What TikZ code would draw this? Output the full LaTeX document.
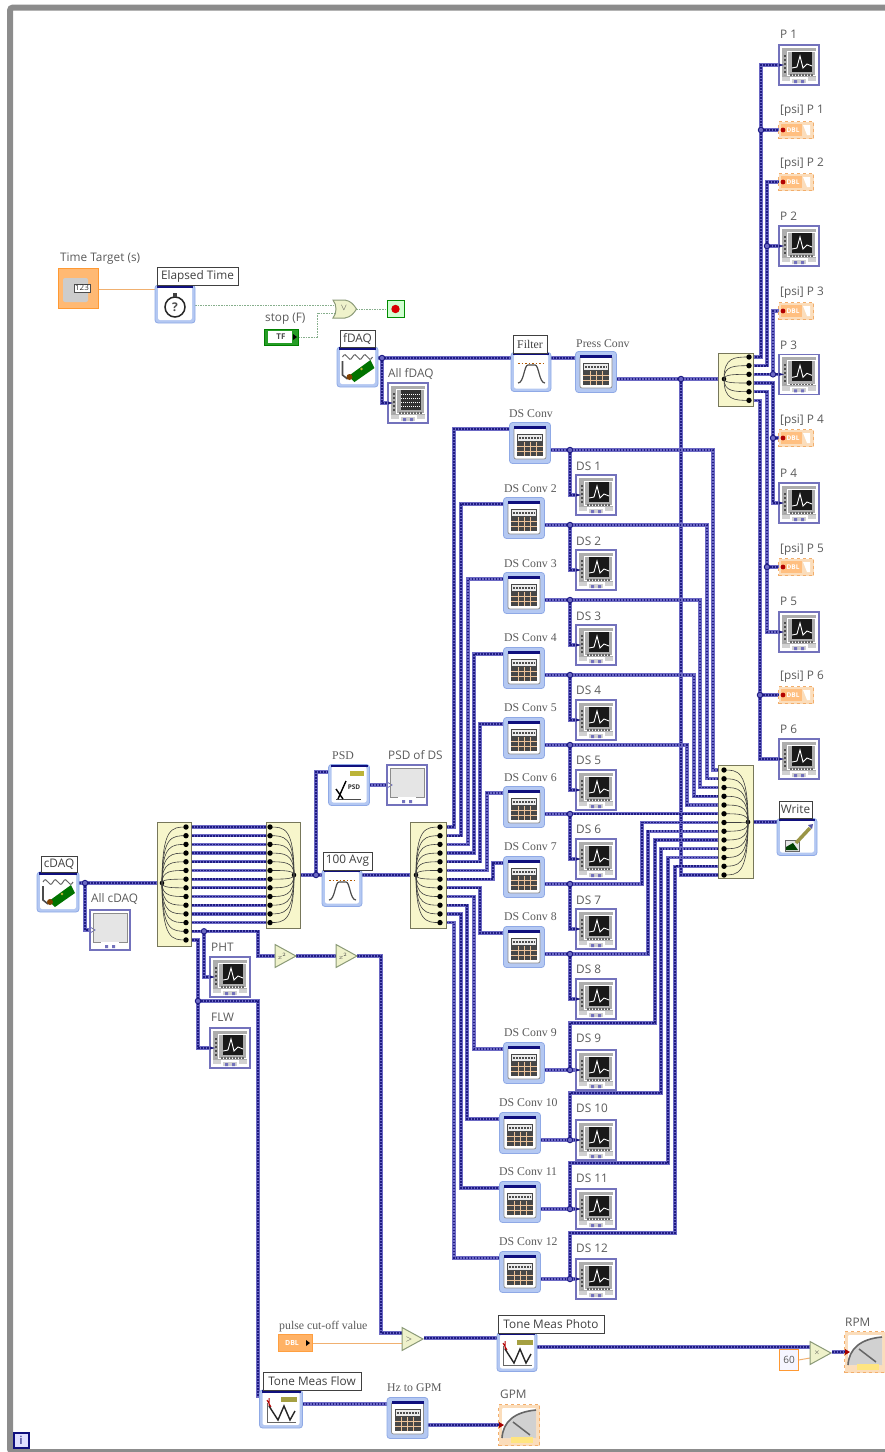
\documentclass[tikz,border=0pt]{standalone}
\usepackage{fontspec}
\setmainfont{Open Sans}
\newfontfamily\serifl{Liberation Serif}
\usetikzlibrary{shapes.geometric,fit,calc}
\pgfdeclarelayer{wirelayer}
\pgfsetlayers{wirelayer,main}
\definecolor{wirelight}{HTML}{6C69C4}
\definecolor{wiredark}{HTML}{1E1B82}
\definecolor{framegray}{HTML}{8C8C8C}
\definecolor{chartedge}{HTML}{7372BC}
\definecolor{exedge}{HTML}{8FA9E6}
\definecolor{exfill}{HTML}{B4C8F2}
\definecolor{navybar}{HTML}{10107E}
\definecolor{bundlefill}{HTML}{F7F6CB}
\definecolor{bundleedge}{HTML}{77775A}
\definecolor{orangeedge}{HTML}{F2AE6C}
\definecolor{orangefill}{HTML}{FBDDBB}
\definecolor{orangewire}{HTML}{F0B070}
\definecolor{boolwire}{HTML}{86AE8C}
\definecolor{primfill}{HTML}{EFF2CB}
\definecolor{primedge}{HTML}{8B9A78}
\definecolor{lbltext}{HTML}{5A5A5A}
\tikzset{
 wire/.style={draw=wirelight,line width=3.2pt,line join=miter,line cap=butt,
   postaction={draw=wiredark,line width=1.7pt,dash pattern=on 1.7pt off 1.3pt}},
 orwire/.style={draw=orangewire,line width=1pt},
 blwire/.style={draw=boolwire,line width=1pt,dash pattern=on 1.6pt off 1pt},
 junc/.style={circle,draw=wiredark,fill=wirelight,line width=0.9pt,minimum size=5.5pt,inner sep=0pt,outer sep=0pt},
 slab/.style={anchor=west,inner sep=0pt,text=lbltext,font=\fontsize{11.8}{13}\selectfont},
 rlab/.style={anchor=west,inner sep=0pt,text=lbltext,font=\serifl\fontsize{11.8}{13}\selectfont},
 boxlab/.style={draw=black!75,fill=white,line width=0.8pt,inner sep=0pt,outer sep=0pt,text=black!75,font=\fontsize{11.8}{13}\selectfont},
 chartframe/.style={rectangle,draw=chartedge,fill=white,line width=1.6pt,minimum size=40pt,inner sep=0pt,outer sep=0pt},
 exframe/.style={rectangle,rounded corners=3pt,draw=exedge,fill=exfill,line width=0.8pt,inner sep=0pt,outer sep=0pt},
 bundlebox/.style={rectangle,draw=bundleedge,fill=bundlefill,line width=0.9pt,inner sep=0pt,outer sep=0pt},
 bundot/.style={circle,fill=black,minimum size=5.4pt,inner sep=0pt,outer sep=0pt},
 hubdot/.style={circle,fill=black,minimum size=4.6pt,inner sep=0pt,outer sep=0pt},
 bundlecurve/.style={draw=black!75,line width=0.6pt},
 numind/.style={rectangle,draw=orangeedge,fill=orangefill,dashed,line width=0.8pt,minimum width=35pt,minimum height=17pt,inner sep=0pt,outer sep=0pt},
 gaugeframe/.style={rectangle,draw=orangeedge,fill=orangefill,dashed,line width=0.8pt,minimum size=41pt,inner sep=0pt,outer sep=0pt},
 prim/.style={isosceles triangle,isosceles triangle stretches,shape border rotate=0,draw=primedge,fill=primfill,line width=1pt,minimum height=21pt,minimum width=23pt,inner sep=0pt,outer sep=0pt,anchor=west},
 primtxt/.style={inner sep=0pt,font=\fontsize{7.5}{8}\selectfont,text=black!75},
}
\newcommand{\chartico}[3]{%
 \node[chartframe] (#1) at (#2,#3) {};
 \coordinate (#1-i) at (#2-20,#3);
 \begin{scope}[shift={(#2,#3)}]
  \fill[black!32] (-17,-17) rectangle (17,12);
  \draw[white,line width=0.8pt] (-12,-14) rectangle (16,10);
  \fill[black!90] (-7,-13) rectangle (13,7);
  \draw[white,line width=0.9pt] (-7,3) -- (-2,2) -- (1,-9) -- (4,3) -- (8,-1) -- (13,1);
  \draw[black!70,line width=1.2pt,dash pattern=on 2pt off 2pt] (-14,-10) -- (-14,10);
  \fill[wiredark] (-20,-1.5) -- (-15,0) -- (-20,1.5) -- cycle;
  \draw[black!60,line width=1.2pt,dash pattern=on 2pt off 1pt] (-9,10) -- (14,10);
  \fill[black!18] (-17,12) rectangle (17,17.5);
  \draw[white,line width=1.5pt] (-18,17) -- (-8,17) -- (-8,13) -- (8,13) -- (8,17) -- (18,17);
  \fill[chartedge] (-5,15) rectangle (-2,18) (2,15) rectangle (5,18);
 \end{scope}}
\newcommand{\blankico}[3]{%
 \node[chartframe] (#1) at (#2,#3) {};
 \coordinate (#1-i) at (#2-20,#3);
 \begin{scope}[shift={(#2,#3)}]
  \fill[black!10] (-17,-17) rectangle (17,12);
  \draw[chartedge,line width=0.8pt] (-20,-3) -- (-15,0) -- (-20,3);
  \draw[black!45,line width=0.8pt] (-17,-17) rectangle (17,12);
  \draw[white,line width=1.5pt] (-18,16) -- (-8,16) -- (-8,13) -- (8,13) -- (8,16) -- (18,16);
  \fill[chartedge] (-5,15) rectangle (-2,18) (2,15) rectangle (5,18);
 \end{scope}}
\newcommand{\convico}[3]{%
 \node[exframe,minimum size=41pt] (#1) at (#2,#3) {};
 \coordinate (#1-i) at (#2-20.5,#3-14);
 \coordinate (#1-o) at (#2+20.5,#3+7);
 \begin{scope}[shift={(#2,#3)}]
  \fill[white,rounded corners=2pt] (-16,-16) rectangle (16,16);
  \draw[black!45,rounded corners=2pt,line width=0.7pt] (-16,-16) rectangle (16,16);
  \fill[navybar] (-16,-17) rectangle (16,-14);
  \fill[black!72] (-13,-9) rectangle (13,13);
  \fill[black!8] (-12,-8) rectangle (12,-2);
  \draw[black!70,line width=1.2pt,dash pattern=on 2pt off 1pt] (-11,-5) -- (11,-5);
  \draw[black!18!orange!40!white,line width=0.5pt] (-13,3) -- (13,3) (-13,8) -- (13,8) (-6,-1) -- (-6,13) (0,-1) -- (0,13) (6,-1) -- (6,13);
 \end{scope}}
\newcommand{\expico}[6]{%
 \node[exframe,minimum width=#4pt,minimum height=#5pt] (#1) at (#2,#3) {};
 \begin{scope}[shift={(#2,#3)}]
  \fill[white,rounded corners=2pt] ({-#4/2+3},{-#5/2+2}) rectangle ({#4/2-3},{#5/2-3});
  \fill[navybar] ({-#4/2+2},{-#5/2}) rectangle ({#4/2-2},{-#5/2+2.5});
  #6
 \end{scope}}
\newcommand{\numico}[3]{%
 \node[numind] (#1) at (#2,#3) {};
 \coordinate (#1-i) at (#2-17.5,#3);
 \begin{scope}[shift={(#2,#3)}]
  \fill[orange!50!white] (-15,-6) rectangle (6,6);
  \node[inner sep=0pt,font=\bfseries\fontsize{6.5}{7}\selectfont,text=white] (#1-t) at (-3,0) {DBL};
  \fill[white] (7,-5) -- (14,-5) -- (14,5) -- (11,5) -- cycle;
  \fill[red!70!black] (-13,0) circle (2.4);
 \end{scope}}
\newcommand{\gaugeico}[3]{%
 \node[gaugeframe] (#1) at (#2,#3) {};
 \coordinate (#1-i) at (#2-20.5,#3);
 \begin{scope}[shift={(#2,#3)}]
  \fill[white,rounded corners=1pt] (-17,-17) rectangle (17,13);
  \fill[black!18] (-17,13) .. controls (-16,-3) and (-5,-13) .. (17,-15) -- (17,13) -- cycle;
  \draw[black!60,line width=1.6pt] (-17,13) .. controls (-16,-3) and (-5,-13) .. (17,-15);
  \draw[black!60,line width=1.5pt] (-6,-3) -- (11,10);
  \fill[orange!40!yellow!50!white] (-8,12) rectangle (14,18);
  \fill[red!65!black] (-20,-3) -- (-15,0) -- (-20,3) -- cycle;
 \end{scope}}
\newcommand{\bundle}[9]{%
 \node[bundlebox,fit={#2 #3}] (#1) {};
 \node[hubdot] (#1-hub) at (#4,#5) {};
 \foreach \k in {1,...,#8} {
  \pgfmathsetmacro\yy{#7+(\k-1)*#9}
  \draw[bundlecurve] (#4,#5) .. controls (#4,\yy) and ({#4+0.42*(#6-#4)},\yy) .. (#6,\yy);
  \node[bundot] (#1-d\k) at (#6,\yy) {};
 }}
\newcommand{\slbl}[4]{\node[slab] (#1) at (#2,#3) {#4};}
\newcommand{\rlbl}[4]{\node[rlab] (#1) at (#2,#3) {#4};}
\newcommand{\blbl}[6]{\node[boxlab,minimum width=#4pt,minimum height=#5pt] (#1) at (#2,#3) {#6};}
\begin{document}
\begin{tikzpicture}[x=1pt,y=-1pt]
\useasboundingbox (0,0) rectangle (885,1452);
\draw[framegray,line width=6pt,rounded corners=3pt] (10,7.5) rectangle (900,1452);
\node[rectangle,draw=navybar,fill=blue!12,line width=2pt,minimum width=15pt,minimum height=15pt,inner sep=0pt] (iter) at (21,1440.5) {};
\node[inner sep=0pt,font=\bfseries\fontsize{11}{12}\selectfont,text=navybar!70] (itert) at (21,1440.5) {i};

% top-left: timing
\node[rectangle,draw=orange!80,fill=orange!55!white,line width=1pt,minimum size=40pt,inner sep=0pt,outer sep=0pt] (ttg) at (78,288) {};
\fill[black!20,rounded corners=2pt] (63,278) rectangle (88,302);
\node[draw=black!70,fill=white,inner sep=1pt,font=\fontsize{8}{9}\selectfont,text=black!80] (ttgn) at (82,288) {123};
\slbl{ttgl}{60}{259}{Time Target (s)}
\coordinate (ttg-o) at (98,289);
\expico{elap}{175}{304}{40}{38}{
  \draw[black!85,fill=white,line width=1.5pt] (0,3) circle (10);
  \fill[black!75] (-2,-11) rectangle (2,-7);
  \node[inner sep=0pt,font=\bfseries\fontsize{12}{12}\selectfont,text=black!70] (elapq) at (0,3) {?};
}
\coordinate (elap-i) at (155,289);
\coordinate (elap-o) at (195,305);
\blbl{elapl}{197.5}{276}{81}{18}{Elapsed Time}
\node[rectangle,minimum width=23pt,minimum height=18pt,inner sep=0pt,outer sep=0pt] (orgate) at (344.5,309) {};
\draw[primedge,fill=primfill,line width=1pt] (333,300) -- (345,300) .. controls (351,301) and (354,305) .. (356.5,309) .. controls (354,313) and (351,317) .. (345,318) -- (333,318) .. controls (337,313) and (337,305) .. (333,300) -- cycle;
\node[primtxt,font=\fontsize{9}{9}\selectfont] (ortxt) at (344,308) {$\vee$};
\coordinate (or-a) at (334,305);
\coordinate (or-b) at (334,313);
\node[rectangle,draw=green!55!black,fill=green!18,line width=1pt,minimum size=17pt,inner sep=0pt,outer sep=0pt] (stop) at (395.5,309) {};
\fill[red!85!black] (395.5,309) circle (4.2);
\node[rectangle,draw=green!50!black,fill=green!55!black!85,line width=1pt,minimum width=34pt,minimum height=16pt,inner sep=0pt,outer sep=0pt] (stopc) at (281,337) {};
\fill[white] (268,331) rectangle (292,343);
\node[inner sep=0pt,font=\bfseries\fontsize{8}{9}\selectfont,text=black!70] (stopct) at (281,337) {TF};
\fill[black] (293,334) -- (297,337) -- (293,340) -- cycle;
\coordinate (stopc-o) at (298,337);
\slbl{stopl}{265}{319}{stop (F)}

% fDAQ
\expico{fdaq}{357.5}{367}{41}{40}{
  \draw[black!60,line width=1pt] (-15,-10) .. controls (-11,-18) and (-9,-2) .. (-5,-10) .. controls (-1,-18) and (1,-2) .. (5,-10) .. controls (9,-18) and (11,-2) .. (15,-10);
  \draw[black!70,line width=1.6pt] (-15,-6) -- (-15,8) -- (-10,12);
  \fill[green!45!black] (-9,9) -- (13,-7) -- (17,1) -- (-3,15) -- cycle;
  \fill[orange!50!black] (-8,10) circle (3);
  \fill[yellow!70!black] (4,2) circle (1.4);
}
\blbl{fdaql}{357.5}{339}{35}{17}{fDAQ}
\coordinate (fdaq-o) at (378,358);
\node[junc] (jf) at (382,358) {};
\chartico{allf}{408}{403}
\fill[black!80] (401,390) rectangle (421,410);
\draw[white,line width=0.5pt,dash pattern=on 1pt off 1pt] (401,394) -- (421,394) (401,398) -- (421,398) (401,402) -- (421,402) (401,406) -- (421,406);
\slbl{allfl}{388}{374}{All fDAQ}

% filter and pressure
\expico{filt}{531}{372}{40}{39}{
  \draw[black!70,line width=1.2pt] (-13,11) .. controls (-7,11) and (-7,-7) .. (-3,-7) -- (4,-7) .. controls (8,-7) and (8,11) .. (14,11);
  \draw[orange!70!black,line width=0.6pt,dash pattern=on 1.5pt off 2pt] (-13,-9) -- (14,-9);
}
\blbl{filtl}{530}{344}{34}{18}{\serifl Filter}
\coordinate (filt-i) at (511,358);
\coordinate (filt-o) at (551,358);
\convico{press}{596}{372}
\rlbl{pressl}{576}{344}{Press Conv}
\bundle{D}{(718,353)}{(753,406)}{724}{379}{749}{357}{6}{8.67}

% indicators top right
\chartico{p1}{799}{65}
\slbl{p1l}{780}{34}{P 1}
\numico{ps1}{796}{130}
\slbl{ps1l}{780}{111}{[psi] P 1}
\numico{ps2}{796}{182}
\slbl{ps2l}{780}{164}{[psi] P 2}
\chartico{p2}{799}{246}
\slbl{p2l}{780}{216}{P 2}
\numico{ps3}{796}{311}
\slbl{ps3l}{780}{293}{[psi] P 3}
\chartico{p3}{799}{374.34}
\slbl{p3l}{780}{345}{P 3}
\numico{ps4}{796}{438}
\slbl{ps4l}{780}{421}{[psi] P 4}
\chartico{p4}{799}{503}
\slbl{p4l}{780}{473}{P 4}
\numico{ps5}{796}{567}
\slbl{ps5l}{780}{550}{[psi] P 5}
\chartico{p5}{799}{632}
\slbl{p5l}{780}{601}{P 5}
\numico{ps6}{796}{695}
\slbl{ps6l}{780}{677}{[psi] P 6}
\chartico{p6}{799}{759}
\slbl{p6l}{780}{729}{P 6}
\node[junc] (ja1) at (761,130) {};
\node[junc] (ja2) at (767,246) {};
\node[junc] (ja3) at (773,374.34) {};
\node[junc] (ja4) at (773,438) {};
\node[junc] (ja5) at (767,567) {};
\node[junc] (ja6) at (760,695) {};

% write
\bundle{E}{(718,765)}{(753,878)}{748}{822}{724}{770}{13}{8.75}
\expico{write}{797}{837}{40}{37}{
  \draw[black!60,fill=black!10,line width=1pt] (-12,3) rectangle (2,14);
  \fill[green!25!black] (-11,10) -- (-4,6) -- (1,13) -- (-11,13) -- cycle;
  \draw[yellow!55!black,line width=3.5pt] (-1,6) -- (13,-9);
  \fill[navybar!70] (11,-12) -- (16,-13) -- (15,-8) -- cycle;
}
\blbl{writel}{795.5}{809.5}{33}{17}{Write}

% DS conversion column
\convico{cv1}{530}{443}  \rlbl{cv1l}{509}{414}{DS Conv}
\convico{cv2}{524}{518}  \rlbl{cv2l}{504}{489}{DS Conv 2}
\convico{cv3}{524}{593}  \rlbl{cv3l}{504}{564}{DS Conv 3}
\convico{cv4}{524}{668}  \rlbl{cv4l}{504}{638}{DS Conv 4}
\convico{cv5}{524}{738}  \rlbl{cv5l}{504}{708}{DS Conv 5}
\convico{cv6}{524}{807}  \rlbl{cv6l}{504}{778}{DS Conv 6}
\convico{cv7}{524}{877}  \rlbl{cv7l}{504}{847}{DS Conv 7}
\convico{cv8}{524}{947}  \rlbl{cv8l}{504}{917}{DS Conv 8}
\convico{cv9}{524}{1063} \rlbl{cv9l}{504}{1033}{DS Conv 9}
\convico{cv10}{520}{1133} \rlbl{cv10l}{499}{1103}{DS Conv 10}
\convico{cv11}{520}{1202} \rlbl{cv11l}{499}{1172}{DS Conv 11}
\convico{cv12}{520}{1272} \rlbl{cv12l}{499}{1242}{DS Conv 12}
\chartico{ds1}{596}{495}   \slbl{ds1l}{576}{466}{DS 1}
\chartico{ds2}{596}{570}   \slbl{ds2l}{576}{541}{DS 2}
\chartico{ds3}{596}{645}   \slbl{ds3l}{576}{616}{DS 3}
\chartico{ds4}{596}{720}   \slbl{ds4l}{576}{690}{DS 4}
\chartico{ds5}{596}{790}   \slbl{ds5l}{576}{760}{DS 5}
\chartico{ds6}{596}{859}   \slbl{ds6l}{576}{829}{DS 6}
\chartico{ds7}{596}{929}   \slbl{ds7l}{576}{900}{DS 7}
\chartico{ds8}{596}{999}   \slbl{ds8l}{576}{969}{DS 8}
\chartico{ds9}{596}{1070}  \slbl{ds9l}{576}{1038}{DS 9}
\chartico{ds10}{596}{1140} \slbl{ds10l}{576}{1108}{DS 10}
\chartico{ds11}{596}{1209} \slbl{ds11l}{576}{1178}{DS 11}
\chartico{ds12}{596}{1279} \slbl{ds12l}{576}{1248}{DS 12}
\node[junc] (jd1) at (570,450) {};
\node[junc] (jd2) at (570,525) {};
\node[junc] (jd3) at (570,600) {};
\node[junc] (jd4) at (570,675) {};
\node[junc] (jd5) at (570,745) {};
\node[junc] (jd6) at (570,814) {};
\node[junc] (jd7) at (570,884) {};
\node[junc] (jd8) at (570,954) {};
\node[junc] (jd9) at (570,1070) {};
\node[junc] (jd10) at (570,1140) {};
\node[junc] (jd11) at (570,1209) {};
\node[junc] (jd12) at (570,1279) {};
\node[junc] (jpr) at (681,379) {};

% left part
\expico{cdaq}{58}{892}{42}{40}{
  \draw[black!60,line width=1pt] (-15,-10) .. controls (-11,-18) and (-9,-2) .. (-5,-10) .. controls (-1,-18) and (1,-2) .. (5,-10) .. controls (9,-18) and (11,-2) .. (15,-10);
  \draw[black!70,line width=1.6pt] (-15,-6) -- (-15,8) -- (-10,12);
  \fill[green!45!black] (-9,9) -- (13,-7) -- (17,1) -- (-3,15) -- cycle;
  \fill[orange!50!black] (-8,10) circle (3);
  \fill[yellow!70!black] (4,2) circle (1.4);
}
\blbl{cdaql}{59}{864}{36}{16}{cDAQ}
\coordinate (cdaq-o) at (79,883);
\node[junc] (jc) at (85,883) {};
\blankico{allc}{110}{930}
\slbl{allcl}{91}{899}{All cDAQ}
\bundle{A}{(157,822)}{(191,946)}{162}{883}{186}{827}{14}{8.69}
\bundle{B}{(266,822)}{(300,928)}{294}{875}{270}{827}{12}{8.69}
\bundle{C}{(410,822)}{(446,928)}{416}{875}{440}{827}{12}{8.69}
\node[junc] (jb) at (316,875) {};
\expico{psd}{349}{785}{41}{41}{
  \draw[black!70,line width=1pt] (-13,14) -- (12,14);
  \draw[black,line width=1.4pt] (-13,4) -- (-6,14) (-11,14) -- (-3,-4);
  \fill[yellow!70!black] (1,-14) rectangle (15,-9);
  \node[inner sep=0pt,font=\bfseries\fontsize{6.5}{7}\selectfont,text=black!80] (psdt) at (5,2) {PSD};
}
\coordinate (psd-i) at (328.5,772);
\coordinate (psd-o) at (369.5,785);
\rlbl{psdl}{332}{756}{PSD}
\blankico{pds}{407}{785}
\slbl{pdsl}{388}{755}{PSD of DS}
\expico{avg}{342}{888}{40}{37}{
  \draw[black!70,line width=1.2pt] (-13,12) .. controls (-7,12) and (-7,-6) .. (-3,-6) -- (4,-6) .. controls (8,-6) and (8,12) .. (14,12);
  \draw[orange!70!black,line width=0.6pt,dash pattern=on 1.5pt off 2pt] (-13,-8) -- (14,-8);
}
\blbl{avgl}{347.5}{861}{49}{18}{100 Avg}
\coordinate (avg-i) at (322,875);
\coordinate (avg-o) at (362,875);
\node[junc] (jp) at (204,931.28) {};
\node[junc] (jq) at (198,1001) {};
\chartico{pht}{230}{977}
\slbl{phtl}{211}{947}{PHT}
\chartico{flw}{230}{1048}
\slbl{flwl}{211}{1017}{FLW}
\node[prim] (sq1) at (275,956) {};
\node[primtxt] (sq1t) at (282,956) {$x^2$};
\node[prim] (sq2) at (336,956) {};
\node[primtxt] (sq2t) at (343,956) {$x^2$};

% bottom
\rlbl{pulsel}{279}{1327}{pulse cut-off value}
\node[rectangle,draw=orange!75,fill=orange!60!white,line width=1pt,minimum width=34pt,minimum height=17pt,inner sep=0pt,outer sep=0pt] (pulse) at (295,1343) {};
\node[inner sep=0pt,font=\bfseries\fontsize{7}{8}\selectfont,text=white] (pulset) at (292,1343) {DBL};
\fill[black] (306,1340) -- (310,1343) -- (306,1346) -- cycle;
\coordinate (pulse-o) at (312,1343);
\node[prim] (gt) at (402,1339) {};
\node[primtxt,font=\bfseries\fontsize{8}{9}\selectfont] (gtt) at (409,1339) {$>$};
\coordinate (gt-a) at (402,1333);
\coordinate (gt-b) at (402,1343);
\coordinate (gt-o) at (424,1338);
\newcommand{\toneicon}{
  \draw[black!60,line width=0.8pt] (-14,-6) -- (-14,13) -- (15,13);
  \draw[black!85,line width=1.4pt] (-12,-3) -- (-3,11) -- (3,-3) -- (9,11) -- (14,2);
  \draw[red!70!black,line width=1pt] (-14,-9) -- (-10,-2) (-12,-11) -- (-12,-3);
  \fill[yellow!60!black] (0,-12) rectangle (16,-7);
}
\expico{tonep}{517}{1352}{40}{39}{\toneicon}
\blbl{tonepl}{551}{1324}{106}{18}{Tone Meas Photo}
\coordinate (tonep-i) at (497,1338);
\coordinate (tonep-o) at (537,1347);
\expico{tonef}{281}{1409}{43}{38}{\toneicon}
\blbl{tonefl}{312}{1381}{98}{18}{Tone Meas Flow}
\coordinate (tonef-i) at (259,1396);
\coordinate (tonef-o) at (302.5,1404);
\convico{hz}{407.5}{1418}
\rlbl{hzl}{387}{1388}{Hz to GPM}
\gaugeico{gpm}{519}{1425}
\slbl{gpml}{500}{1394}{GPM}
\node[rectangle,draw=orange!80,fill=blue!4,line width=1.5pt,minimum width=19pt,minimum height=21pt,inner sep=0pt,outer sep=0pt,text=black!65,font=\fontsize{10}{11}\selectfont] (k60) at (789,1360) {60};
\node[prim] (mult) at (810,1353) {};
\node[primtxt] (multt) at (817,1353) {$\times$};
\coordinate (mult-a) at (810,1347);
\coordinate (mult-b) at (810,1358);
\coordinate (mult-o) at (832,1352);
\gaugeico{rpm}{865}{1352}
\slbl{rpml}{845}{1322}{RPM}

\begin{pgfonlayer}{wirelayer}
% thin wires
\draw[orwire] (ttg-o) -- (elap-i);
\draw[blwire] (elap-o) -- (or-a);
\draw[blwire] (stopc-o) -| (317,313) -- (or-b);
\draw[blwire] (orgate.east) -- (stop.west);
\draw[orwire] (pulse-o) -- (gt-b);
\draw[orwire] (k60.east) -- (mult-b);
% fDAQ
\draw[wire] (fdaq-o) -- (filt-i);
\draw[wire] (jf.center) |- (allf-i);
\draw[wire] (filt-o) -- (press-i);
\draw[wire] (press-o) -- (D-hub.center);
\draw[wire] (jpr.center) |- (E-d13.center);
% pressure outputs
\draw[wire] (D-d1.center) -| (761,65) -- (p1-i);
\draw[wire] (ja1.center) -- (ps1-i);
\draw[wire] (D-d2.center) -| (767,182) -- (ps2-i);
\draw[wire] (ja2.center) -- (p2-i);
\draw[wire] (D-d3.center) -- (p3-i);
\draw[wire] (ja3.center) |- (ps3-i);
\draw[wire] (D-d4.center) -| (773,503) -- (p4-i);
\draw[wire] (ja4.center) -- (ps4-i);
\draw[wire] (D-d5.center) -| (767,632) -- (p5-i);
\draw[wire] (ja5.center) -- (ps5-i);
\draw[wire] (D-d6.center) -| (760,759) -- (p6-i);
\draw[wire] (ja6.center) -- (ps6-i);
\draw[wire] (E-hub.center) -- (write.west |- E-hub);
% DS inputs
\draw[wire] (C-d1.center) -| (454,429) -- (cv1-i);
\draw[wire] (C-d2.center) -| (461,504) -- (cv2-i);
\draw[wire] (C-d3.center) -| (468,579) -- (cv3-i);
\draw[wire] (C-d4.center) -| (474,654) -- (cv4-i);
\draw[wire] (C-d5.center) -| (480,724) -- (cv5-i);
\draw[wire] (C-d6.center) -| (487,793) -- (cv6-i);
\draw[wire] (C-d7.center) -| (493,863) -- (cv7-i);
\draw[wire] (C-d8.center) -| (480,933) -- (cv8-i);
\draw[wire] (C-d9.center) -| (474,1049) -- (cv9-i);
\draw[wire] (C-d10.center) -| (467,1119) -- (cv10-i);
\draw[wire] (C-d11.center) -| (461,1188) -- (cv11-i);
\draw[wire] (C-d12.center) -| (454,1258) -- (cv12-i);
% DS outputs
\draw[wire] (cv1-o) -- (jd1.center) -| (713,770) -- (E-d1.center);
\draw[wire] (cv2-o) -- (jd2.center) -| (707,778.75) -- (E-d2.center);
\draw[wire] (cv3-o) -- (jd3.center) -| (700,787.5) -- (E-d3.center);
\draw[wire] (cv4-o) -- (jd4.center) -| (694,796.25) -- (E-d4.center);
\draw[wire] (cv5-o) -- (jd5.center) -| (687,805) -- (E-d5.center);
\draw[wire] (cv6-o) -- (jd6.center) -- (570,813.75) -- (E-d6.center);
\draw[wire] (cv7-o) -- (jd7.center) -| (642,822.5) -- (E-d7.center);
\draw[wire] (cv8-o) -- (jd8.center) -| (648,831.25) -- (E-d8.center);
\draw[wire] (cv9-o) -- (jd9.center) -- (ds9-i);
\draw[wire] (jd9.center) |- (655,1023) |- (E-d9.center);
\draw[wire] (cv10-o) -- (jd10.center) -- (ds10-i);
\draw[wire] (jd10.center) |- (661,1093) |- (E-d10.center);
\draw[wire] (cv11-o) -- (jd11.center) -- (ds11-i);
\draw[wire] (jd11.center) |- (668,1163) |- (E-d11.center);
\draw[wire] (cv12-o) -- (jd12.center) -- (ds12-i);
\draw[wire] (jd12.center) |- (675,1233) |- (E-d12.center);
\draw[wire] (jd1.center) |- (ds1-i);
\draw[wire] (jd2.center) |- (ds2-i);
\draw[wire] (jd3.center) |- (ds3-i);
\draw[wire] (jd4.center) |- (ds4-i);
\draw[wire] (jd5.center) |- (ds5-i);
\draw[wire] (jd6.center) |- (ds6-i);
\draw[wire] (jd7.center) |- (ds7-i);
\draw[wire] (jd8.center) |- (ds8-i);
% left part
\draw[wire] (cdaq-o) -- (A-hub.center);
\draw[wire] (jc.center) |- (allc-i);
\foreach \r in {1,...,12} { \draw[wire] (A-d\r.center) -- (B-d\r.center); }
\draw[wire] (B-hub.center) -- (avg-i);
\draw[wire] (jb.center) |- (psd-i);
\draw[wire] (psd-o) -- (pds-i);
\draw[wire] (avg-o) -- (C-hub.center);
\draw[wire] (A-d13.center) -| (258,956) -- (sq1.west);
\draw[wire] (jp.center) |- (pht-i);
\draw[wire] (A-d14.center) -| (198,1048) -- (flw-i);
\draw[wire] (jq.center) -| (258,1396) -- (tonef-i);
\draw[wire] (sq1.apex) -- (sq2.west);
\draw[wire] (sq2.apex) -| (381,1333) -- (gt-a);
\draw[wire] (gt-o) -- (tonep-i);
\draw[wire] (tonep-o) -- (mult-a);
\draw[wire] (mult-o) -- (rpm-i);
\draw[wire] (tonef-o) -- (hz-i);
\draw[wire] (hz-o) -- (gpm-i);
\end{pgfonlayer}
\end{tikzpicture}
\end{document}
